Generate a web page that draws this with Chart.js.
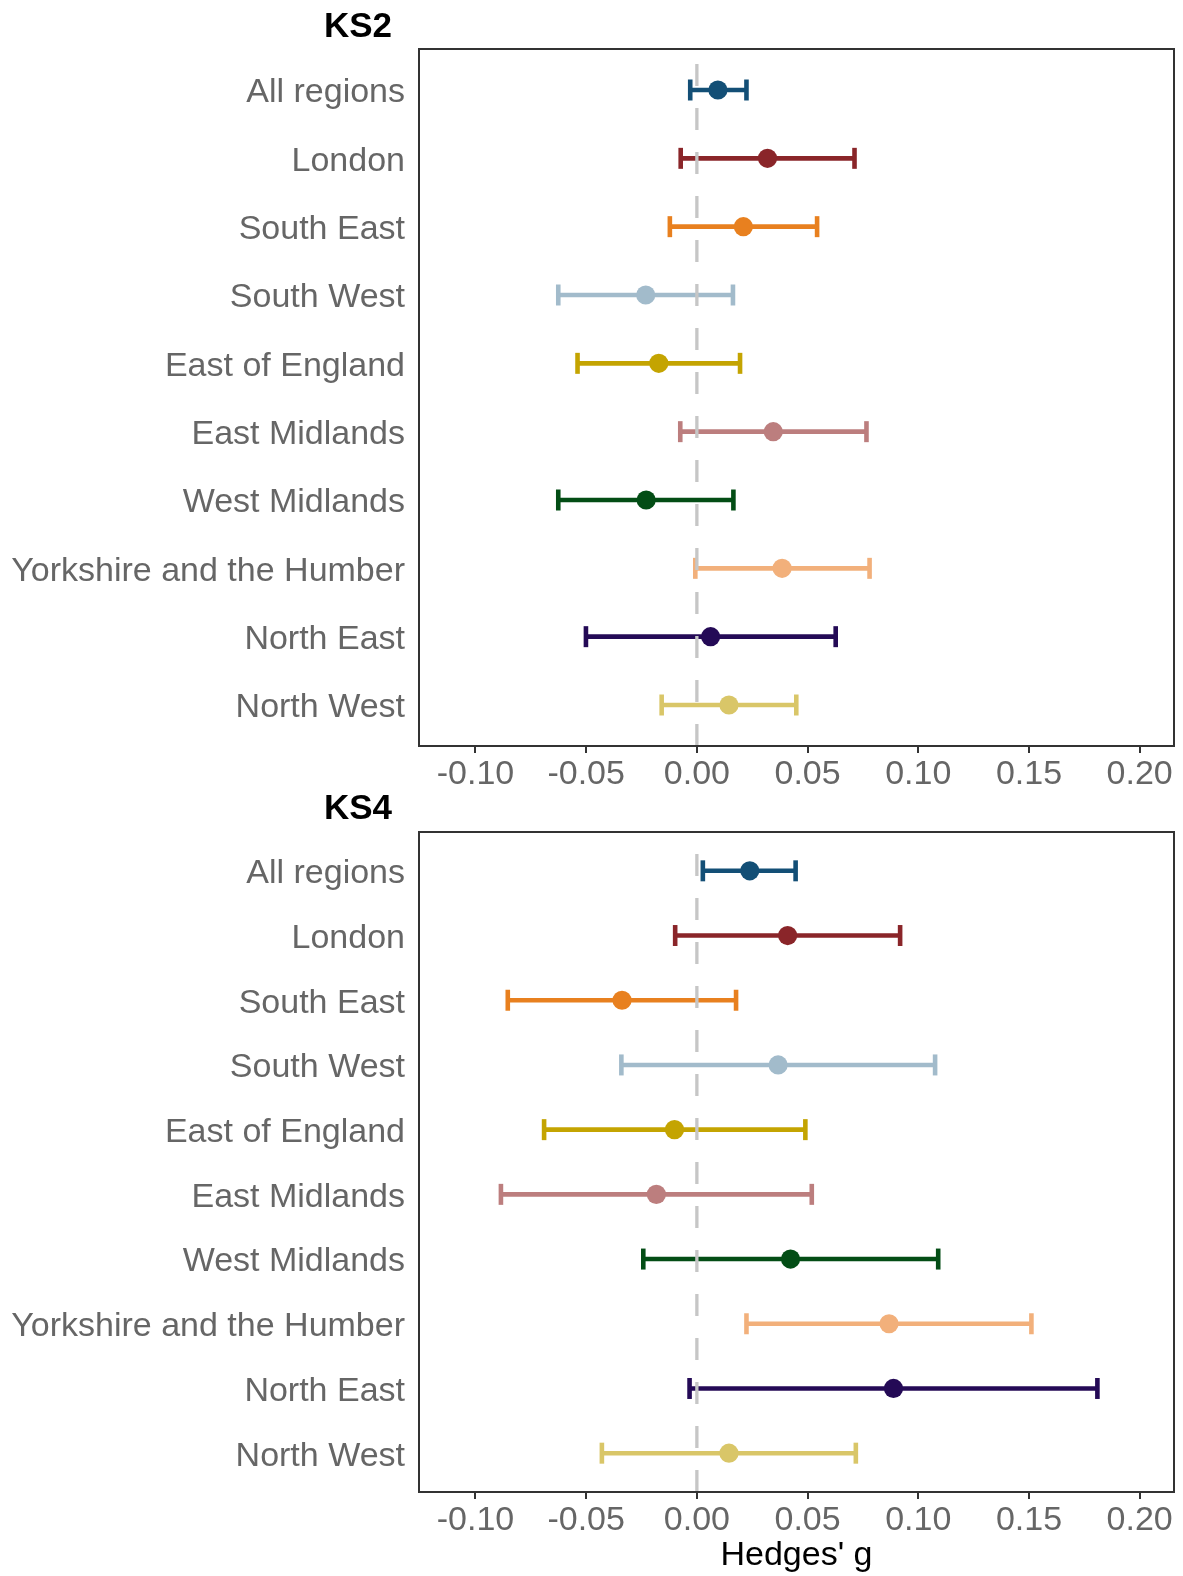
<!DOCTYPE html>
<html>
<head>
<meta charset="utf-8">
<title>Hedges' g by region, KS2 and KS4</title>
<script src="https://cdn.jsdelivr.net/npm/chart.js@4.4.1/dist/chart.umd.min.js"></script>
<style>
  html, body { margin: 0; padding: 0; background: #ffffff; }
  canvas { display: block; }
</style>
</head>
<body>
<canvas id="ks2" width="1183" height="788"></canvas>
<canvas id="ks4" width="1183" height="788"></canvas>
<script>
// Regions, listed top to bottom
const regions = [
  'All regions', 'London', 'South East', 'South West', 'East of England',
  'East Midlands', 'West Midlands', 'Yorkshire and the Humber', 'North East', 'North West'
];

const regionColours = [
  '#134f76', '#8a2529', '#e8801f', '#a2bbcb', '#c4a401',
  '#bc7e7e', '#034d15', '#f2b07b', '#240a56', '#d9c668'
];

// KS2 effect sizes with lower / upper confidence limits
const ks2Estimate = [0.0095, 0.0319, 0.0210, -0.0231, -0.0172, 0.0345, -0.0229, 0.0385, 0.0062, 0.0145];
const ks2Lower    = [-0.0030, -0.0073, -0.0122, -0.0626, -0.0539, -0.0075, -0.0626, -0.0007, -0.0501, -0.0159];
const ks2Upper    = [0.0224, 0.0712, 0.0543, 0.0163, 0.0195, 0.0766, 0.0165, 0.0780, 0.0627, 0.0449];

// KS4 effect sizes with lower / upper confidence limits
const ks4Estimate = [0.0239, 0.0410, -0.0338, 0.0367, -0.0101, -0.0183, 0.0423, 0.0868, 0.0888, 0.0145];
const ks4Lower    = [0.0027, -0.0098, -0.0854, -0.0341, -0.0690, -0.0885, -0.0242, 0.0224, -0.0033, -0.0429];
const ks4Upper    = [0.0446, 0.0918, 0.0177, 0.1076, 0.0490, 0.0519, 0.1090, 0.1511, 0.1809, 0.0718];

const xTickValues = [-0.10, -0.05, 0.00, 0.05, 0.10, 0.15, 0.20];
const xLimits = [-0.1255, 0.2155];

const FONT = '"Liberation Sans", Arial, Helvetica, sans-serif';

// Panel title and frame
const panelDecor = {
  id: 'panelDecor',
  afterDraw(chart, args, opts) {
    const { ctx, chartArea } = chart;
    ctx.save();
    ctx.strokeStyle = '#333333';
    ctx.lineWidth = 2;
    ctx.strokeRect(chartArea.left, chartArea.top, chartArea.right - chartArea.left, chartArea.bottom - chartArea.top);
    ctx.fillStyle = '#000000';
    ctx.font = 'bold 35px ' + FONT;
    ctx.textAlign = 'right';
    ctx.textBaseline = 'alphabetic';
    ctx.fillText(opts.text, opts.x, opts.baseline);
    ctx.restore();
  }
};

function buildPanel(canvasId, title, estimate, lower, upper, layout) {
  const datasets = [];

  // Estimates, drawn on top
  datasets.push({
    type: 'scatter',
    data: regions.map((r, i) => ({ x: estimate[i], y: i + 1 })),
    pointRadius: 9.6,
    pointBackgroundColor: regionColours,
    pointBorderWidth: 0,
    order: 0
  });

  // Reference line at zero
  datasets.push({
    type: 'scatter',
    data: [{ x: 0, y: 10.6 }, { x: 0, y: 0.4 }],
    showLine: true,
    borderColor: '#c6c6c6',
    borderWidth: 3.3,
    borderDash: [22, 22],
    pointRadius: 0,
    order: 1
  });

  // Confidence intervals with end caps
  regions.forEach((r, i) => {
    datasets.push({
      type: 'scatter',
      data: [{ x: lower[i], y: i + 1 }, { x: upper[i], y: i + 1 }],
      showLine: true,
      borderColor: regionColours[i],
      borderWidth: 4.6,
      pointStyle: 'line',
      pointRotation: 90,
      pointRadius: 10.5,
      pointBorderColor: regionColours[i],
      pointBorderWidth: 4.6,
      order: 2
    });
  });

  return new Chart(document.getElementById(canvasId), {
    type: 'scatter',
    data: { datasets },
    options: {
      responsive: false,
      animation: false,
      events: [],
      layout: { autoPadding: false, padding: { top: layout.padTop, right: 9, bottom: 0, left: 0 } },
      plugins: {
        legend: { display: false },
        tooltip: { enabled: false },
        panelDecor: { text: title, x: 392, baseline: layout.titleBaseline }
      },
      scales: {
        x: {
          type: 'linear',
          position: 'bottom',
          min: xLimits[0],
          max: xLimits[1],
          afterBuildTicks(scale) { scale.ticks = xTickValues.map(v => ({ value: v })); },
          afterFit(scale) {
            scale.height = layout.xHeight;
            scale.paddingLeft = 0;
            scale.paddingRight = 0;
          },
          border: { display: false },
          grid: { display: true, drawOnChartArea: false, drawTicks: true, tickLength: 7, color: '#333333', lineWidth: 2 },
          ticks: {
            color: '#666666',
            font: { family: FONT, size: 34 },
            padding: 1,
            maxRotation: 0,
            autoSkip: false,
            callback: v => v.toFixed(2)
          },
          title: {
            display: layout.showXTitle,
            text: "Hedges' g",
            color: '#000000',
            font: { family: FONT, size: 34 },
            padding: { top: 0, bottom: 0 }
          }
        },
        y: {
          type: 'linear',
          position: 'left',
          reverse: true,
          min: 0.4,
          max: 10.6,
          afterBuildTicks(scale) { scale.ticks = regions.map((r, i) => ({ value: i + 1 })); },
          afterFit(scale) {
            scale.width = 419;
            scale.paddingTop = 0;
            scale.paddingBottom = 0;
          },
          border: { display: false },
          grid: { display: false, drawTicks: false },
          ticks: {
            color: '#666666',
            font: { family: FONT, size: 34 },
            padding: 14,
            labelOffset: 3,
            autoSkip: false,
            callback: v => regions[Math.round(v) - 1]
          }
        }
      }
    },
    plugins: [panelDecor]
  });
}

buildPanel('ks2', 'KS2', ks2Estimate, ks2Lower, ks2Upper,
  { padTop: 49, xHeight: 42, showXTitle: false, titleBaseline: 37 });
buildPanel('ks4', 'KS4', ks4Estimate, ks4Lower, ks4Upper,
  { padTop: 44, xHeight: 84, showXTitle: true, titleBaseline: 31 });
</script>
</body>
</html>
